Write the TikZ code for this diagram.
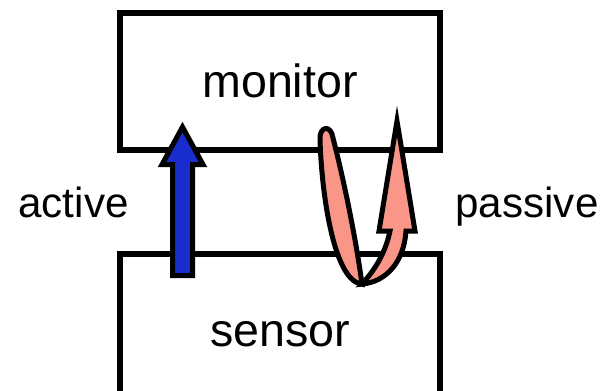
\documentclass[tikz,border=0pt]{standalone}
\usepackage{fontspec}
\setmainfont{Liberation Sans}
\usetikzlibrary{positioning}
\definecolor{activeblue}{RGB}{25,45,205}
\definecolor{passivepink}{RGB}{250,150,135}

\begin{document}
\begin{tikzpicture}[x=0.02cm, y=-0.02cm,
        box/.style={rectangle, draw, line width=0.12cm, minimum width=6.4cm,
            font=\fontsize{26.5}{30}\selectfont},
        lbl/.style={font=\fontsize{24}{28}\selectfont, anchor=base},
        activearrow/.style={draw, fill=activeblue, line width=0.1cm,
            line join=miter, miter limit=20},
        passivearrow/.style={draw, fill=passivepink, line width=0.1cm,
            line join=miter, miter limit=20},
    ]
        \clip (0,0) rectangle (602,390);

        % Boxes
        \node[box, minimum height=2.75cm] (monitor) at (280,81.25) {monitor};
        \node[box, minimum height=3.2cm] (sensor) at (280,334) {sensor};

        % Labels
        \node[lbl] (active) at (73.5,217) {active};
        \node[lbl] (passive) at (527,217) {passive};

        % Active arrow
        \draw[activearrow] (172.5,275.5) -- (172.5,164.5) -- (162,164.5)
            -- (182.5,127) -- (203,164.5) -- (192.5,164.5)
            -- (192.5,275.5) -- cycle;

        % Passive arrow
        \draw[passivearrow] (362,284) .. controls (335,282) and (322,200) .. (320,140)
            .. controls (319,126) and (331,124) .. (333,138)
            .. controls (345,185) and (356,240) .. (362,284) -- cycle;
        \draw[passivearrow] (362,284) .. controls (386,282) and (404,262) .. (406,231)
            -- (415,231) -- (397,121) -- (379,231) -- (390,231)
            .. controls (385,255) and (373,272) .. (362,284) -- cycle;
    \end{tikzpicture}
\end{document}
